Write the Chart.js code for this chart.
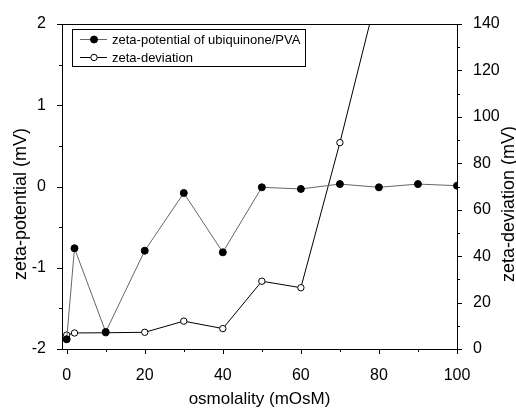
<!DOCTYPE html>
<html>
<head>
<meta charset="utf-8">
<script src="https://cdn.jsdelivr.net/npm/chart.js@4.4.0/dist/chart.umd.min.js"></script>
<style>
    html, body { margin: 0; padding: 0; background: #fff; }
    #wrap { width: 516px; height: 408px; }
</style>
</head>
<body>
<div id="wrap"><canvas id="zetaChart"></canvas></div>
<script>
// data
const osmolality = [0, 2, 10, 20, 30, 40, 50, 60, 70, 80, 90, 100];
const zetaPotential = [-1.88, -0.76, -1.79, -0.79, -0.08, -0.81, -0.01, -0.03, 0.03, -0.01, 0.03, 0.01];
const deviationX = [0, 2, 10, 20, 30, 40, 50, 60, 70, 80];
const zetaDeviation = [6.0, 6.9, 7.0, 7.2, 12.0, 8.8, 29.2, 26.4, 88.9, 156];

const xTicks = [0, 20, 40, 60, 80, 100];
const xMinor = [10, 30, 50, 70, 90];
const leftTicks = [-2, -1, 0, 1, 2];
const leftMinor = [-1.5, -0.5, 0.5, 1.5];
const rightTicks = [0, 20, 40, 60, 80, 100, 120, 140];
const rightMinor = [10, 30, 50, 70, 90, 110, 130];

const legendLabels = ["zeta-potential of ubiquinone/PVA", "zeta-deviation"];
const leftTitle = "zeta-potential (mV)";
const rightTitle = "zeta-deviation (mV)";

const FONT = "'Liberation Sans', Arial, sans-serif";

const toPoints = (xs, ys) => xs.map((x, i) => ({ x: x, y: ys[i] }));
const fixTicks = values => scale => { scale.ticks = values.map(v => ({ value: v })); };

// ticks outward, top frame line, both y titles (read bottom to top, centred on the figure)
const tickMarks = {
    id: "tickMarks",
    afterDraw(chart) {
        const ctx = chart.ctx;
        const area = chart.chartArea;
        const sx = chart.scales.x, sl = chart.scales.yL, sr = chart.scales.yR;
        ctx.save();
        ctx.strokeStyle = "#000";
        ctx.lineWidth = 1;
        ctx.beginPath();
        ctx.moveTo(area.left, area.top + 0.5);
        ctx.lineTo(area.right, area.top + 0.5);

        const hTick = (vals, len) => vals.forEach(v => {
            const px = Math.round(sx.getPixelForValue(v)) + 0.5;
            ctx.moveTo(px, area.bottom);
            ctx.lineTo(px, area.bottom + len);
        });
        const lTick = (vals, len) => vals.forEach(v => {
            const py = Math.round(sl.getPixelForValue(v)) + 0.5;
            ctx.moveTo(area.left, py);
            ctx.lineTo(area.left - len, py);
        });
        const rTick = (vals, len) => vals.forEach(v => {
            const py = Math.round(sr.getPixelForValue(v)) + 0.5;
            ctx.moveTo(area.right, py);
            ctx.lineTo(area.right + len, py);
        });
        hTick(xTicks, 5); hTick(xMinor, 3);
        lTick(leftTicks, 5); lTick(leftMinor, 3);
        rTick(rightTicks, 5); rTick(rightMinor, 3);
        ctx.stroke();

        ctx.fillStyle = "#000";
        ctx.font = "18px " + FONT;
        ctx.textAlign = "center";
        ctx.textBaseline = "middle";
        const midY = chart.height / 2;
        [[21, leftTitle], [509, rightTitle]].forEach(([tx, text]) => {
            ctx.save();
            ctx.translate(tx, midY);
            ctx.rotate(-Math.PI / 2);
            ctx.fillText(text, 0, 0);
            ctx.restore();
        });
        ctx.restore();
    }
};

// legend box inside the plot, upper left
const boxLegend = {
    id: "boxLegend",
    afterDatasetsDraw(chart) {
        const ctx = chart.ctx;
        const x0 = 72, y0 = 29, w = 233, h = 37;
        ctx.save();
        ctx.fillStyle = "#fff";
        ctx.fillRect(x0, y0, w, h);
        ctx.strokeStyle = "#000";
        ctx.lineWidth = 1;
        ctx.strokeRect(x0 + 0.5, y0 + 0.5, w, h);
        ctx.font = "13px " + FONT;
        ctx.textBaseline = "middle";
        chart.data.datasets.forEach((ds, i) => {
            const y = y0 + 10 + i * 18;
            ctx.strokeStyle = ds.borderColor;
            ctx.beginPath();
            ctx.moveTo(80, y + 0.5);
            ctx.lineTo(107, y + 0.5);
            ctx.stroke();
            ctx.beginPath();
            ctx.arc(94, y + 0.5, ds.pointRadius, 0, Math.PI * 2);
            ctx.fillStyle = ds.pointBackgroundColor;
            ctx.fill();
            ctx.strokeStyle = "#000";
            ctx.stroke();
            ctx.fillStyle = "#000";
            ctx.fillText(legendLabels[i], 112, y + 1);
        });
        ctx.restore();
    }
};

const chart = new Chart(document.getElementById("zetaChart"), {
    type: "scatter",
    data: {
        datasets: [
            {
                label: legendLabels[0],
                data: toPoints(osmolality, zetaPotential),
                yAxisID: "yL",
                showLine: true,
                borderColor: "#666",
                borderWidth: 1,
                pointRadius: 3.5,
                pointBackgroundColor: "#000",
                pointBorderColor: "#000",
                pointBorderWidth: 1
            },
            {
                label: legendLabels[1],
                data: toPoints(deviationX, zetaDeviation),
                yAxisID: "yR",
                showLine: true,
                borderColor: "#000",
                borderWidth: 1,
                pointRadius: 3.2,
                pointBackgroundColor: "#fff",
                pointBorderColor: "#000",
                pointBorderWidth: 1
            }
        ]
    },
    options: {
        responsive: true,
        maintainAspectRatio: false,
        animation: false,
        layout: { padding: { top: 24, left: 0, right: 0, bottom: 0 } },
        plugins: { legend: { display: false }, tooltip: { enabled: false } },
        scales: {
            x: {
                type: "linear",
                min: -1.2,
                max: 100,
                afterBuildTicks: fixTicks(xTicks),
                afterFit: s => { s.height = 59; },
                grid: { display: false },
                border: { display: true, color: "#000", width: 1 },
                ticks: { padding: 9, color: "#000", font: { family: FONT, size: 16 } },
                title: {
                    display: true, text: "osmolality (mOsM)", color: "#000",
                    font: { family: FONT, size: 17, lineHeight: 1 }, padding: { top: 0, bottom: 0 }
                }
            },
            yL: {
                type: "linear",
                position: "left",
                min: -2,
                max: 2,
                afterBuildTicks: fixTicks(leftTicks),
                afterFit: s => { s.width = 62; },
                grid: { display: false },
                border: { display: true, color: "#000", width: 1 },
                ticks: { padding: 8, color: "#000", font: { family: FONT, size: 16 } }
            },
            yR: {
                type: "linear",
                position: "right",
                min: 0,
                max: 140,
                afterBuildTicks: fixTicks(rightTicks),
                afterFit: s => { s.width = 59; },
                grid: { display: false },
                border: { display: true, color: "#000", width: 1 },
                ticks: { padding: 8, color: "#000", font: { family: FONT, size: 16 } }
            }
        }
    },
    plugins: [tickMarks, boxLegend]
});
</script>
</body>
</html>
